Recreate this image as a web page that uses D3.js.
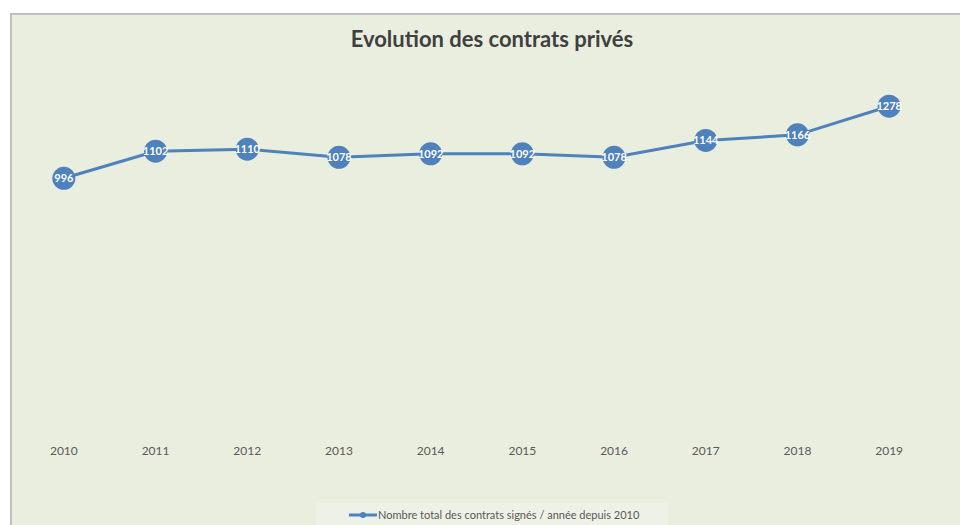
<!DOCTYPE html>
<html>
<head>
<meta charset="utf-8">
<script src="https://cdn.jsdelivr.net/npm/d3@7"></script>
<style>
  body { margin: 0; background: #fff; }
  svg { display: block; }
</style>
</head>
<body>
<div id="chart"></div>
<script>
const years = ["2010", "2011", "2012", "2013", "2014", "2015", "2016", "2017", "2018", "2019"];
const contrats = [996, 1102, 1110, 1078, 1092, 1092, 1078, 1144, 1166, 1278];
const seriesName = "Nombre total des contrats signés / année depuis 2010";
const chartTitle = "Evolution des contrats privés";

const config = {
    width: 960,
    height: 525,
    plot: { left: 18, right: 935, top: 75, bottom: 433 },
    color: "#4F81BD",
    bg: "#EAEEDF",
    font: "Lato, 'Open Sans', sans-serif"
};

const svg = d3.select("#chart")
    .append("svg")
    .attr("width", config.width)
    .attr("height", config.height);

// chart area with its border
svg.append("rect")
    .attr("x", 11)
    .attr("y", 14)
    .attr("width", config.width)
    .attr("height", config.height)
    .style("fill", config.bg)
    .style("stroke", "#BFBFBF")
    .style("stroke-width", 2);

const xScale = d3.scaleBand()
    .domain(years)
    .range([config.plot.left, config.plot.right]);

const yScale = d3.scaleLinear()
    .domain([0, 1400])
    .range([config.plot.bottom, config.plot.top]);

// category axis, labels only
const xAxis = svg.append("g")
    .attr("transform", "translate(0," + (config.plot.bottom + 13) + ")")
    .call(d3.axisBottom(xScale).tickSize(0).tickPadding(0));

xAxis.select(".domain").remove();
xAxis.selectAll("text")
    .style("font-family", config.font)
    .style("font-size", "12px")
    .style("fill", "#595959");

svg.append("text")
    .attr("x", 492)
    .attr("y", 47)
    .attr("text-anchor", "middle")
    .style("font-family", config.font)
    .style("font-size", "22px")
    .style("font-weight", "bold")
    .style("fill", "#404040")
    .text(chartTitle);

const data = years.map((y, i) => ({ year: y, value: contrats[i] }));

const line = d3.line()
    .x(d => xScale(d.year) + xScale.bandwidth() / 2)
    .y(d => yScale(d.value));

svg.append("path")
    .datum(data)
    .attr("d", line)
    .style("fill", "none")
    .style("stroke", config.color)
    .style("stroke-width", 3);

const points = svg.append("g")
    .selectAll("g")
    .data(data)
    .enter().append("g")
    .attr("transform", d => "translate(" + (xScale(d.year) + xScale.bandwidth() / 2) + "," + yScale(d.value) + ")");

points.append("circle")
    .attr("r", 11.5)
    .style("fill", config.color);

points.append("text")
    .attr("text-anchor", "middle")
    .attr("dy", "0.35em")
    .style("font-family", config.font)
    .style("font-size", "11px")
    .style("font-weight", "bold")
    .style("fill", "#fff")
    .text(d => d.value);

// legend
const legend = svg.append("g");

legend.append("rect")
    .attr("x", 316)
    .attr("y", 503)
    .attr("width", 352)
    .attr("height", 24)
    .style("fill", "#EEF1E6");

legend.append("line")
    .attr("x1", 349)
    .attr("x2", 377)
    .attr("y1", 515)
    .attr("y2", 515)
    .style("stroke", config.color)
    .style("stroke-width", 3);

legend.append("circle")
    .attr("cx", 363)
    .attr("cy", 515)
    .attr("r", 3)
    .style("fill", config.color);

legend.append("text")
    .attr("x", 378)
    .attr("y", 519)
    .style("font-family", config.font)
    .style("font-size", "11px")
    .style("fill", "#595959")
    .text(seriesName);
</script>
</body>
</html>
